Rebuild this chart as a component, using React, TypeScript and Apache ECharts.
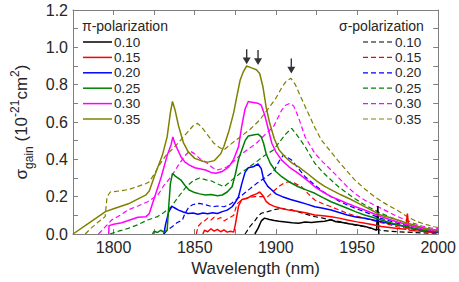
import React, { useEffect, useRef } from "react";
import * as echarts from "echarts";

// ---------- data (wavelength nm, sigma_gain 1e-21 cm^2) ----------
const concentrations = ["0.10", "0.15", "0.20", "0.25", "0.30", "0.35"];
const colors = ["#000000", "#ff0000", "#0000ff", "#008000", "#ff00ff", "#808000"];
const xTickLabels = [1800, 1850, 1900, 1950, 2000];

const pi010 = [[1887,0],[1889,0.03],[1891,0.07],[1893,0.085],[1896,0.078],[1899,0.072],[1902,0.068],[1906,0.064],[1910,0.06],[1914,0.058],[1918,0.064],[1922,0.062],[1926,0.066],[1930,0.068],[1934,0.076],[1937,0.066],[1941,0.062],[1945,0.055],[1950,0.048],[1955,0.04],[1959,0.03],[1962,0.02],[1962.8,0.15],[1963.4,0]];
const pi015 = [[1855,0],[1856,0.02],[1858,0.012],[1860,0.028],[1862,0.015],[1864,0.025],[1866,0.012],[1868,0.022],[1870,0.01],[1872,0.015],[1874,0.01],[1875,0.05],[1877,0.15],[1879,0.185],[1882,0.19],[1885,0.205],[1888,0.215],[1890,0.225],[1892,0.205],[1894,0.175],[1896,0.16],[1899,0.148],[1903,0.138],[1908,0.128],[1914,0.12],[1919,0.112],[1924,0.102],[1929,0.098],[1934,0.093],[1939,0.085],[1944,0.075],[1950,0.065],[1955,0.057],[1960,0.05],[1965,0.04],[1970,0.035],[1975,0.03],[1980,0.025],[1981,0.11],[1982,0.022],[1986,0.018],[1990,0.015],[1995,0.01],[2000,0.008]];
const pi020 = [[1831,0],[1832,0.05],[1834,0.12],[1836,0.148],[1838,0.138],[1840,0.128],[1843,0.118],[1846,0.11],[1849,0.112],[1852,0.106],[1855,0.112],[1858,0.108],[1861,0.114],[1864,0.11],[1867,0.12],[1870,0.128],[1873,0.146],[1875,0.17],[1877,0.2],[1879,0.27],[1881,0.33],[1883,0.355],[1886,0.36],[1889,0.375],[1891,0.35],[1892.5,0.29],[1895,0.255],[1897.5,0.236],[1900,0.215],[1904,0.2],[1909,0.185],[1914,0.173],[1919,0.16],[1924,0.146],[1929,0.138],[1934,0.129],[1939,0.115],[1944,0.102],[1950,0.09],[1955,0.084],[1960,0.075],[1965,0.066],[1970,0.056],[1975,0.048],[1980,0.04],[1985,0.03],[1990,0.022],[1995,0.015],[2000,0.01]];
const pi025 = [[1824,0],[1825,0.015],[1827,0.008],[1829,0.02],[1831,0.01],[1833,0.02],[1834,0.15],[1835,0.27],[1836.3,0.325],[1838,0.31],[1841.5,0.289],[1844,0.26],[1846.5,0.236],[1850,0.222],[1853,0.215],[1856.7,0.209],[1860,0.212],[1864,0.205],[1867,0.209],[1870,0.225],[1873,0.253],[1875,0.32],[1877,0.4],[1879,0.45],[1881,0.5],[1883,0.525],[1886,0.53],[1889,0.535],[1891,0.52],[1892.4,0.486],[1894,0.43],[1896.5,0.379],[1900,0.335],[1903.6,0.307],[1908,0.28],[1913.8,0.253],[1919,0.235],[1924,0.218],[1929,0.195],[1934,0.173],[1939,0.155],[1944,0.138],[1949,0.12],[1954.6,0.102],[1960,0.088],[1965,0.075],[1970,0.062],[1975,0.05],[1980,0.04],[1985,0.03],[1990,0.022],[1995,0.016],[2000,0.012]];
const pi030 = [[1797,0],[1797.2,0.045],[1800,0.052],[1805,0.06],[1810,0.075],[1815,0.09],[1820,0.093],[1822,0.11],[1825,0.19],[1829.4,0.307],[1833,0.42],[1835.5,0.48],[1836.5,0.52],[1838,0.48],[1841.5,0.414],[1844,0.385],[1846.5,0.37],[1850,0.355],[1853,0.35],[1856.7,0.343],[1860,0.33],[1863,0.325],[1867,0.335],[1871,0.36],[1874,0.4],[1877,0.468],[1879,0.58],[1881,0.67],[1883,0.71],[1886,0.705],[1889,0.7],[1891,0.69],[1893,0.64],[1894.4,0.593],[1897.5,0.486],[1900,0.44],[1903.6,0.396],[1908,0.36],[1913.8,0.325],[1919,0.29],[1924,0.253],[1929,0.225],[1934,0.2],[1939,0.182],[1944,0.164],[1949,0.146],[1954.6,0.129],[1960,0.11],[1964.7,0.093],[1970,0.078],[1975,0.064],[1980,0.052],[1985,0.04],[1990,0.03],[1995,0.022],[2000,0.018]];
const pi035 = [[1775,0],[1785,0.06],[1795,0.12],[1800,0.135],[1810,0.165],[1820,0.21],[1822,0.23],[1826,0.33],[1830,0.42],[1833,0.52],[1835,0.65],[1836.3,0.71],[1838,0.66],[1840,0.58],[1843,0.49],[1846,0.44],[1850,0.405],[1855,0.39],[1858,0.385],[1862,0.393],[1866,0.43],[1868,0.47],[1871,0.55],[1874,0.65],[1876,0.74],[1878,0.825],[1880,0.87],[1882,0.9],[1885,0.89],[1888,0.88],[1890,0.86],[1892,0.79],[1894,0.68],[1896,0.6],[1899,0.51],[1902,0.45],[1906,0.41],[1910,0.38],[1914,0.36],[1920,0.32],[1925,0.285],[1930,0.255],[1935,0.232],[1940,0.21],[1945,0.19],[1950,0.168],[1955,0.145],[1960,0.123],[1965,0.1],[1970,0.088],[1975,0.075],[1980,0.06],[1985,0.048],[1990,0.035],[1995,0.025],[2000,0.02]];

const s010 = [[1881,0],[1884,0.04],[1887,0.07],[1889,0.095],[1891,0.111],[1895,0.12],[1899,0.13],[1903.6,0.138],[1906,0.132],[1909.7,0.129],[1914,0.118],[1919,0.105],[1924,0.093],[1929,0.085],[1934,0.075],[1939,0.066],[1944,0.057],[1949,0.048],[1954.6,0.039],[1960,0.028],[1964.7,0.02],[1970,0.015],[1980,0.01],[1990,0.006],[2000,0.004]];
const s015 = [[1851,0],[1852,0.04],[1854,0.06],[1856,0.07],[1858,0.085],[1860,0.075],[1862,0.09],[1864,0.08],[1866,0.088],[1868,0.07],[1870,0.08],[1872,0.09],[1874,0.1],[1876,0.16],[1879,0.185],[1883,0.195],[1887,0.2],[1891,0.2],[1895,0.2],[1898,0.225],[1901.6,0.253],[1905,0.272],[1907.7,0.28],[1911,0.275],[1915.8,0.253],[1920,0.215],[1924,0.182],[1929,0.162],[1934,0.146],[1939,0.128],[1944,0.111],[1949,0.097],[1954.6,0.084],[1960,0.072],[1964.7,0.061],[1970,0.05],[1975,0.039],[1980,0.032],[1985,0.025],[1990,0.018],[1995,0.013],[2000,0.01]];
const s020 = [[1831,0],[1833,0.02],[1836.3,0.04],[1839,0.06],[1842.4,0.075],[1844,0.11],[1846.5,0.146],[1849,0.158],[1852.6,0.164],[1856,0.158],[1860.8,0.146],[1864,0.15],[1868,0.146],[1872,0.16],[1875,0.18],[1878,0.2],[1883,0.235],[1888,0.27],[1893,0.3],[1898.5,0.334],[1902,0.39],[1904.6,0.423],[1907,0.41],[1909.7,0.396],[1913,0.36],[1918,0.307],[1924,0.262],[1929,0.228],[1934,0.2],[1939,0.176],[1944,0.155],[1949,0.137],[1954.6,0.12],[1960,0.1],[1964.7,0.084],[1970,0.07],[1975,0.057],[1980,0.048],[1985,0.039],[1990,0.03],[1995,0.022],[2000,0.015]];
const s025 = [[1797.8,0],[1803,0.015],[1809,0.03],[1815,0.05],[1821,0.075],[1827,0.093],[1831,0.115],[1835.5,0.146],[1840,0.2],[1845,0.255],[1849,0.285],[1853,0.3],[1857,0.29],[1860,0.285],[1863.8,0.27],[1868,0.253],[1873,0.29],[1878,0.325],[1883,0.355],[1888,0.387],[1893,0.42],[1898.5,0.45],[1902,0.49],[1906,0.535],[1909.7,0.566],[1913,0.53],[1918,0.468],[1924,0.379],[1929,0.33],[1934,0.289],[1939,0.25],[1944,0.218],[1949,0.187],[1954.6,0.157],[1960,0.132],[1964.7,0.111],[1970,0.092],[1975,0.075],[1980,0.06],[1985,0.048],[1990,0.035],[1995,0.026],[2000,0.021]];
const s030 = [[1790.7,0],[1794,0.03],[1798.8,0.075],[1804,0.1],[1809,0.129],[1815,0.15],[1821,0.173],[1824,0.19],[1827.4,0.21],[1831,0.26],[1835.5,0.307],[1840,0.37],[1844,0.42],[1847,0.445],[1849.6,0.432],[1853,0.405],[1857.7,0.379],[1861,0.355],[1863.8,0.343],[1867,0.35],[1870,0.36],[1874,0.39],[1878,0.423],[1883,0.455],[1888,0.486],[1893,0.53],[1898.5,0.575],[1903.6,0.664],[1906,0.69],[1908.7,0.7],[1911,0.685],[1913.8,0.628],[1918,0.52],[1924,0.432],[1929,0.385],[1934,0.343],[1939,0.298],[1944,0.253],[1949,0.215],[1954.6,0.182],[1960,0.158],[1964.7,0.138],[1970,0.115],[1975,0.093],[1980,0.075],[1985,0.057],[1990,0.043],[1995,0.033],[2000,0.029]];
const s035 = [[1782.5,0],[1786,0.03],[1790,0.06],[1794.8,0.093],[1796,0.2],[1798,0.225],[1805,0.232],[1810,0.24],[1815,0.255],[1820,0.27],[1822,0.28],[1825,0.32],[1829,0.38],[1833,0.43],[1837,0.46],[1840,0.49],[1845,0.54],[1849,0.58],[1851.6,0.593],[1854,0.575],[1858,0.53],[1861.8,0.486],[1865,0.465],[1868,0.45],[1872,0.48],[1878,0.52],[1884,0.56],[1890,0.61],[1896,0.68],[1899.5,0.72],[1904,0.79],[1906.5,0.82],[1909.3,0.834],[1912,0.8],[1915,0.74],[1919,0.664],[1924,0.57],[1928,0.504],[1933,0.45],[1938,0.396],[1943,0.345],[1948.5,0.29],[1955,0.24],[1960.7,0.2],[1965,0.175],[1970.8,0.146],[1976,0.12],[1981,0.093],[1986,0.07],[1991,0.055],[1997.4,0.039],[2000,0.035]];

const arrowPoints = [[1882, 0.95], [1889, 0.946], [1909.5, 0.9]];

const piSeries = [pi010, pi015, pi020, pi025, pi030, pi035];
const sigmaSeries = [s010, s015, s020, s025, s030, s035];

const FONT = "Arial, 'Liberation Sans', sans-serif";
const AXIS_COLOR = "#7f7f7f";
const TEXT_COLOR = "#262626";
const ARROW_PATH = "path://M4.3,0 L5.7,0 L5.7,10 L9,10 L5,18 L1,10 L4.3,10 Z";

export default function App() {
  const ref = useRef<HTMLDivElement>(null);

  useEffect(() => {
    document.body.style.margin = "0";
    if (!ref.current) return;
    const chart = echarts.init(ref.current, null, { renderer: "svg" });

    const series: any[] = [];
    sigmaSeries.forEach((d, i) => {
      series.push({
        name: "σ " + concentrations[i],
        type: "line",
        data: d,
        symbol: "none",
        silent: true,
        lineStyle: { color: colors[i], width: 1.2, type: [5, 3] },
        z: 2,
      });
    });
    piSeries.forEach((d, i) => {
      series.push({
        name: "π " + concentrations[i],
        type: "line",
        data: d,
        symbol: "none",
        silent: true,
        lineStyle: { color: colors[i], width: 1.5 },
        z: 3,
      });
    });
    series.push({
      name: "arrows",
      type: "scatter",
      data: arrowPoints,
      symbol: ARROW_PATH,
      symbolSize: [8, 15],
      itemStyle: { color: "#000" },
      silent: true,
      z: 5,
    });

    // legends drawn as graphics
    const graphics: any[] = [];
    const rowY0 = 42;
    const rowStep = 15.4;
    const textStyle = (text: string, size: number) => ({
      text,
      font: `${size}px ${FONT}`,
      fill: TEXT_COLOR,
      lineHeight: size,
      verticalAlign: "middle",
      align: "left",
    });
    graphics.push({ type: "text", x: 82, y: 25.5, style: textStyle("π-polarization", 14) });
    graphics.push({ type: "text", x: 339, y: 25.5, style: textStyle("σ-polarization", 14) });
    concentrations.forEach((c, i) => {
      const y = rowY0 + i * rowStep;
      graphics.push({
        type: "line",
        shape: { x1: 83, y1: y, x2: 112, y2: y },
        style: { stroke: colors[i], lineWidth: 1.5 },
      });
      graphics.push({ type: "text", x: 114, y: y, style: textStyle(c, 13.5) });
      graphics.push({
        type: "line",
        shape: { x1: 363, y1: y, x2: 393, y2: y },
        style: { stroke: colors[i], lineWidth: 1.2, lineDash: [5, 3] },
      });
      graphics.push({ type: "text", x: 395, y: y, style: textStyle(c, 13.5) });
    });

    const axisLineStyle = { color: AXIS_COLOR, width: 1 };

    chart.setOption({
      animation: false,
      backgroundColor: "#ffffff",
      grid: { left: 73, top: 10, right: 18, bottom: 48, show: false },
      xAxis: [
        {
          type: "value",
          min: 1775,
          max: 2000,
          interval: 25,
          position: "bottom",
          axisLine: { show: true, onZero: false, lineStyle: axisLineStyle },
          axisTick: { show: true, inside: true, length: 5, lineStyle: axisLineStyle },
          axisLabel: {
            fontSize: 16,
            fontFamily: FONT,
            color: TEXT_COLOR,
            margin: 5,
            formatter: (v: number) => (xTickLabels.indexOf(v) >= 0 ? String(v) : ""),
          },
          splitLine: { show: false },
          name: "Wavelength (nm)",
          nameLocation: "middle",
          nameGap: 26,
          nameTextStyle: { fontSize: 17, fontFamily: FONT, color: TEXT_COLOR },
        },
        {
          type: "value",
          min: 1775,
          max: 2000,
          interval: 25,
          position: "top",
          axisLine: { show: true, onZero: false, lineStyle: axisLineStyle },
          axisTick: { show: true, inside: true, length: 5, lineStyle: axisLineStyle },
          axisLabel: { show: false },
          splitLine: { show: false },
        },
      ],
      yAxis: [
        {
          type: "value",
          min: 0,
          max: 1.2,
          interval: 0.2,
          position: "left",
          axisLine: { show: true, onZero: false, lineStyle: axisLineStyle },
          axisTick: { show: true, inside: true, length: 5, lineStyle: axisLineStyle },
          minorTick: { show: true, splitNumber: 2, length: 5, lineStyle: axisLineStyle },
          axisLabel: {
            fontSize: 16,
            fontFamily: FONT,
            color: TEXT_COLOR,
            margin: 5,
            formatter: (v: number) => v.toFixed(1),
          },
          splitLine: { show: false },
          name: "{m|σ}{sub|gain}{m| (10}{sup|-21}{m|cm}{sup|2}{m|)}",
          nameLocation: "middle",
          nameRotate: 90,
          nameGap: 36,
          nameTextStyle: {
            fontFamily: FONT,
            color: TEXT_COLOR,
            rich: {
              m: { fontSize: 17, fontFamily: FONT, color: TEXT_COLOR, lineHeight: 26 },
              sub: { fontSize: 12, fontFamily: FONT, color: TEXT_COLOR, lineHeight: 12, verticalAlign: "bottom" },
              sup: { fontSize: 12, fontFamily: FONT, color: TEXT_COLOR, lineHeight: 12, verticalAlign: "top" },
            },
          },
        },
        {
          type: "value",
          min: 0,
          max: 1.2,
          interval: 0.2,
          position: "right",
          axisLine: { show: true, onZero: false, lineStyle: axisLineStyle },
          axisTick: { show: true, inside: true, length: 5, lineStyle: axisLineStyle },
          minorTick: { show: true, splitNumber: 2, length: 5, lineStyle: axisLineStyle },
          axisLabel: { show: false },
          splitLine: { show: false },
        },
      ],
      series,
      graphic: graphics,
    });

    return () => {
      chart.dispose();
    };
  }, []);

  return <div ref={ref} style={{ width: 459, height: 282 }} />;
}
